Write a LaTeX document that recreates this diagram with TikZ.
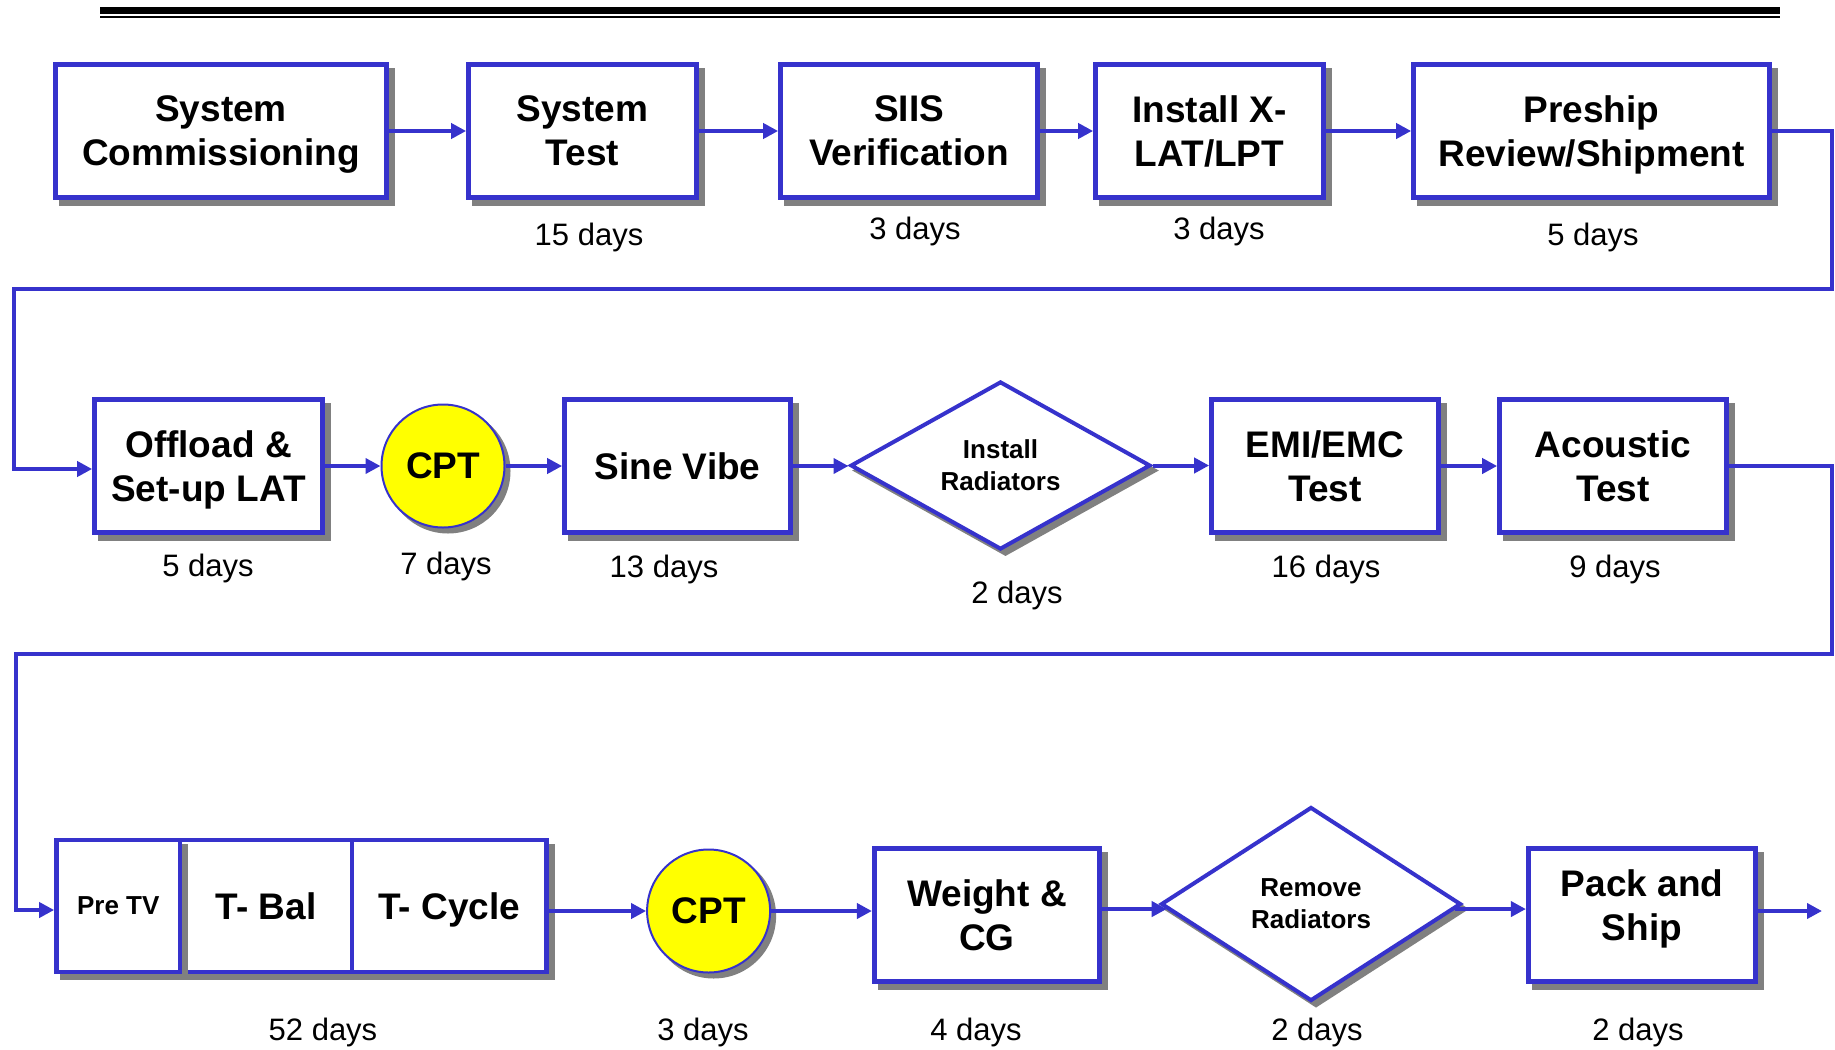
\documentclass[tikz,border=0pt]{standalone}
\usepackage{fontspec}
\setmainfont{Liberation Sans}
\usetikzlibrary{arrows.meta,shapes.geometric,shadows}
\definecolor{boxblue}{RGB}{54,50,204}
\definecolor{shgray}{RGB}{128,128,128}
\definecolor{cptyellow}{RGB}{255,255,0}
\begin{document}
\begin{tikzpicture}[x=0.5pt,y=-0.5pt,
  shd/.style={general shadow={shadow xshift=3pt, shadow yshift=-3pt, fill=shgray, draw=shgray, line width=#1}},
  box/.style={draw=boxblue, line width=2.35pt, fill=white, inner sep=0pt, align=center, text depth=0pt,
    font=\bfseries\fontsize{18.5}{22}\selectfont, minimum height=66.5pt, shd=2.35pt},
  smallbox/.style={box, font=\bfseries\fontsize{13}{16}\selectfont},
  cpt/.style={circle, draw=boxblue, line width=1pt, fill=cptyellow, inner sep=0pt, minimum size=61.5pt,
    font=\bfseries\fontsize{18.5}{22}\selectfont, general shadow={shadow xshift=2.5pt, shadow yshift=-2.5pt, fill=shgray, draw=shgray, line width=1pt}},
  dia/.style={diamond, shape aspect=1.8, draw=boxblue, line width=2pt, fill=white, inner sep=0pt, align=center,
    font=\bfseries\fontsize{13}{16}\selectfont, general shadow={shadow xshift=2.5pt, shadow yshift=-2.5pt, fill=shgray, draw=shgray, line width=2pt}},
  lbl/.style={anchor=base, inner sep=0pt, font=\fontsize{15.5}{18}\selectfont},
  conn/.style={draw=boxblue, line width=2pt, -{Triangle[length=7.5pt,width=7.5pt]}}
]
\useasboundingbox (0,0) rectangle (1835,1049);
% top rule
\draw[line width=3.5pt] (100,10.5) -- (1780,10.5);
\draw[line width=1.1pt] (100,17.3) -- (1780,17.3);

% row 1
\node[box, minimum width=165.5pt] (b1) at (221,131) {System\\Commissioning};
\node[box, minimum width=114pt] (b2) at (582.5,131) {System\\Test};
\node[box, minimum width=128.5pt] (b3) at (909,131) {SIIS\\Verification};
\node[box, minimum width=114pt] (b4) at (1209.5,131) {Install X-\\LAT/LPT};
\node[box, minimum width=178pt] (b5) at (1591.5,131) {Preship\\Review/Shipment};
\draw[conn] (b1.east) -- (b2.west);
\draw[conn] (b2.east) -- (b3.west);
\draw[conn] (b3.east) -- (b4.west);
\draw[conn] (b4.east) -- (b5.west);
\node[lbl] (l1) at (589,245) {15 days};
\node[lbl] (l2) at (915,239) {3 days};
\node[lbl] (l3) at (1219,239) {3 days};
\node[lbl] (l4) at (1593,245) {5 days};

% row 2
\node[box, minimum width=114pt] (off) at (208.5,466) {Offload \&\\Set-up LAT};
\node[cpt] (cpt1) at (443,466) {CPT};
\node[box, minimum width=113pt] (sine) at (677.5,466) {Sine Vibe};
\node[dia, minimum width=150pt, minimum height=84pt] (inst) at (1000.5,465.5) {Install\\Radiators};
\node[box, minimum width=113.5pt] (emi) at (1325,466) {EMI/EMC\\Test};
\node[box, minimum width=113.5pt] (acou) at (1613,466) {Acoustic\\Test};
\draw[conn] (off.east) -- (cpt1.west);
\draw[conn] (cpt1.east) -- (sine.west);
\draw[conn] (sine.east) -- (sine.east -| inst.west);
\draw[conn] (inst.east) -- (inst.east -| emi.west);
\draw[conn] (emi.east) -- (acou.west);
\node[lbl] (l5) at (208,576) {5 days};
\node[lbl] (l6) at (446,574) {7 days};
\node[lbl] (l7) at (664,577) {13 days};
\node[lbl] (l8) at (1017,603) {2 days};
\node[lbl] (l9) at (1326,577) {16 days};
\node[lbl] (l10) at (1615,577) {9 days};

% row 3
\node[box, minimum width=86pt, minimum height=66pt] (tbal) at (266,906) {T- Bal};
\node[box, minimum width=97.25pt, minimum height=66pt] (tcyc) at (449.25,906) {T- Cycle};
\node[smallbox, minimum width=61.75pt, minimum height=66pt] (pretv) at (118.25,906) {Pre TV};
\node[cpt] (cpt2) at (708.6,911) {CPT};
\node[box, minimum width=112.75pt, minimum height=66.8pt] (wcg) at (987,915) {Weight \&\\CG};
\node[dia, minimum width=150pt, minimum height=97pt] (rem) at (1311,904) {Remove\\Radiators};
\node[box, minimum width=113.75pt, minimum height=66.8pt, text depth=10pt] (pack) at (1642,915) {Pack and\\Ship};
\coordinate (fin) at (1822,911);
\draw[conn] (tcyc.east |- cpt2.west) -- (cpt2.west);
\draw[conn] (cpt2.east) -- (cpt2.east -| wcg.west);
\draw[conn] (wcg.east |- rem.182.9) -- (rem.182.9);
\draw[conn] (rem.-2.9) -- (rem.-2.9 -| pack.west);
\draw[conn] (pack.east |- fin) -- (fin);
\node[lbl] (l11) at (323,1040) {52 days};
\node[lbl] (l12) at (703,1040) {3 days};
\node[lbl] (l13) at (976,1040) {4 days};
\node[lbl] (l14) at (1317,1040) {2 days};
\node[lbl] (l15) at (1638,1040) {2 days};

% loops
\coordinate (t1) at (1832,289);
\coordinate (t2) at (14,289);
\coordinate (t2b) at (14,469);
\draw[conn] (b5.east) -| (t1) -- (t2) -- (t2b) -- (t2b -| off.west);
\coordinate (t3) at (1832,654);
\coordinate (t4) at (16,654);
\coordinate (t4b) at (16,910);
\draw[conn] (acou.east) -| (t3) -- (t4) -- (t4b) -- (t4b -| pretv.west);
\end{tikzpicture}
\end{document}
